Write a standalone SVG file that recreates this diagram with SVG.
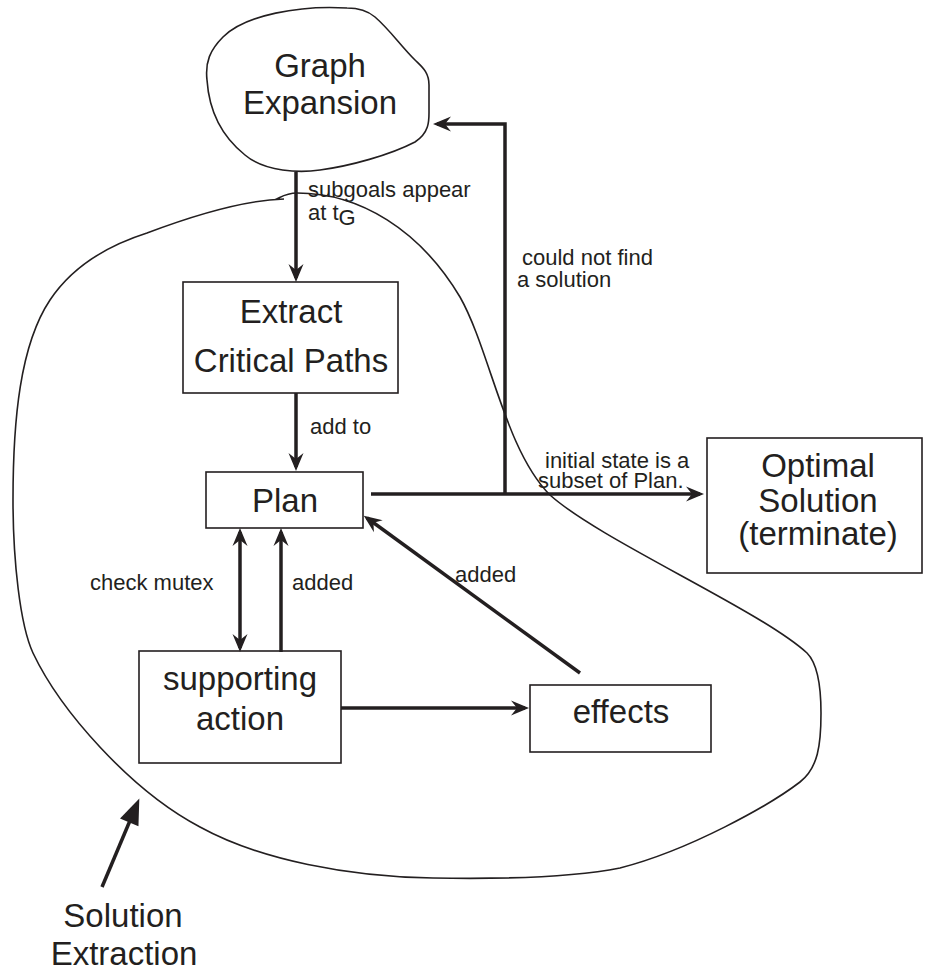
<svg xmlns="http://www.w3.org/2000/svg" width="925" height="974" viewBox="0 0 925 974">
<style>
  .box { fill: none; stroke: #231f20; stroke-width: 1.6; }
  .big { font-family: "Liberation Sans", Arial, sans-serif; font-size: 33px; fill: #231f20; text-anchor: middle; }
  .lbl { font-family: "Liberation Sans", Arial, sans-serif; font-size: 22px; fill: #231f20; }
  .con { fill: none; stroke: #231f20; stroke-width: 3.5; }
</style>
<defs>
  <marker id="ah" viewBox="-20 -9 22 18" refX="-4" refY="0" markerWidth="22" markerHeight="18" markerUnits="userSpaceOnUse" orient="auto">
    <path d="M0,0 L-18,-7.5 L-12,0 L-18,7.5 Z" fill="#231f20"/>
  </marker>
  <marker id="ahs" viewBox="-20 -9 22 18" refX="-4" refY="0" markerWidth="22" markerHeight="18" markerUnits="userSpaceOnUse" orient="auto-start-reverse">
    <path d="M0,0 L-18,-7.5 L-12,0 L-18,7.5 Z" fill="#231f20"/>
  </marker>
  <marker id="tri" viewBox="-28 -12 30 24" refX="-6" refY="0" markerWidth="30" markerHeight="24" markerUnits="userSpaceOnUse" orient="auto">
    <path d="M0,0 L-26,-10 L-26,10 Z" fill="#231f20"/>
  </marker>
</defs>

<g id="solution-extraction-region">
  <path class="box" d="M 274,200 C 280,198 285,193 297,193 C 360,193 420,230 460,297 C 490,350 505,450 550,495 C 600,540 760,610 807,653 C 817,663 821,685 821,713 C 821,745 818,768 800,782 C 770,805 690,850 620,868 C 570,878 490,879 433,878 C 350,877 260,860 200,827 C 130,790 60,710 33,653 C 20,625 13,560 13,500 C 13,420 20,345 50,300 C 70,270 100,248 147,233 C 200,213 250,200 284,199"/>
</g>

<g id="graph-expansion">
  <path class="box" d="M 347,8 C 300,5 245,15 223,37 C 210,50 205,62 207,80 C 209,110 220,135 245,155 C 265,172 300,173 320,170 C 350,166 390,155 415,142 C 430,132 429,120 429,110 L 429,85 C 429,72 422,67 415,60 C 400,45 390,30 375,17 C 368,11 360,8 347,8 Z"/>
  <text class="big" x="320" y="77">Graph</text>
  <text class="big" x="320" y="114">Expansion</text>
</g>

<g id="extract-critical-paths">
  <rect class="box" x="183" y="282" width="215" height="111"/>
  <text class="big" x="291" y="323">Extract</text>
  <text class="big" x="291" y="372">Critical Paths</text>
</g>

<g id="plan">
  <rect class="box" x="206" y="472" width="157" height="56"/>
  <text class="big" x="285" y="512">Plan</text>
</g>

<g id="optimal-solution">
  <rect class="box" x="707" y="438" width="215" height="135"/>
  <text class="big" x="818" y="477">Optimal</text>
  <text class="big" x="818" y="512">Solution</text>
  <text class="big" x="818" y="545">(terminate)</text>
</g>

<g id="supporting-action">
  <rect class="box" x="139" y="651" width="202" height="112"/>
  <text class="big" x="240" y="690">supporting</text>
  <text class="big" x="240" y="730">action</text>
</g>

<g id="effects">
  <rect class="box" x="530" y="685" width="181" height="67"/>
  <text class="big" x="621" y="723">effects</text>
</g>

<g id="solution-extraction-label">
  <text class="big" x="123" y="927">Solution</text>
  <text class="big" x="124" y="965">Extraction</text>
</g>

<g id="connectors">
  <line class="con" x1="296" y1="172" x2="296" y2="278" marker-end="url(#ah)"/>
  <line class="con" x1="296" y1="393" x2="296" y2="467" marker-end="url(#ah)"/>
  <line class="con" x1="371" y1="494" x2="700" y2="494" marker-end="url(#ah)"/>
  <polyline class="con" points="505,494 505,124 437,124" marker-end="url(#ah)"/>
  <line class="con" x1="240" y1="532" x2="240" y2="648" marker-start="url(#ahs)" marker-end="url(#ahs)"/>
  <line class="con" x1="281" y1="652" x2="281" y2="532" marker-end="url(#ah)"/>
  <line class="con" x1="341" y1="708" x2="525" y2="708" marker-end="url(#ah)"/>
  <line class="con" x1="580" y1="673" x2="367" y2="518" marker-end="url(#ah)"/>
  <line class="con" x1="102" y1="887" x2="137" y2="804" stroke-width="4.5" marker-end="url(#tri)"/>
</g>

<g id="labels">
  <text class="lbl" x="308" y="197" font-size="21">subgoals appear</text>
  <text class="lbl" x="308" y="220" font-size="21">at t<tspan dy="5" font-size="22">G</tspan></text>
  <text class="lbl" x="522" y="265">could not find</text>
  <text class="lbl" x="517" y="287">a solution</text>
  <text class="lbl" x="310" y="434">add to</text>
  <text class="lbl" x="545" y="468">initial state is a</text>
  <text class="lbl" x="538" y="488">subset of Plan.</text>
  <text class="lbl" x="90" y="590">check mutex</text>
  <text class="lbl" x="292" y="590">added</text>
  <text class="lbl" x="455" y="582">added</text>
</g>
</svg>
